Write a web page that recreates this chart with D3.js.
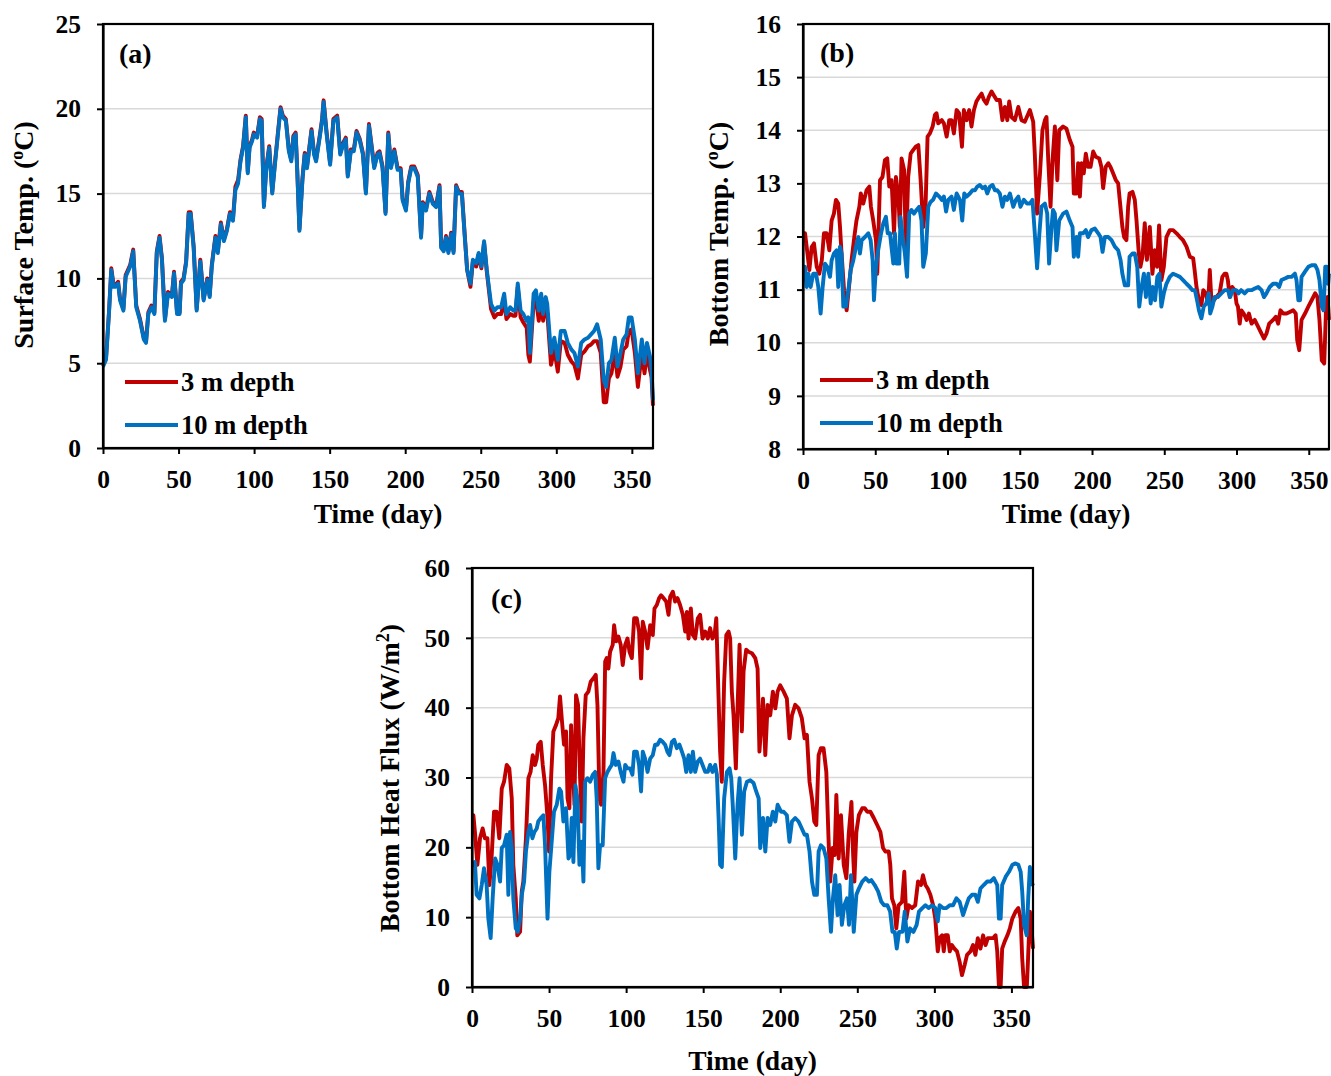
<!DOCTYPE html>
<html>
<head>
<meta charset="utf-8">
<script src="https://cdn.jsdelivr.net/npm/d3@7"></script>
<style>
    body { margin: 0; background: #fff; }
    svg { display: block; }
</style>
</head>
<body>
<div id="chart"></div>
<script>
// [day, value] pairs
const surface3m = [
    [0,4.9],[2,5.3],[4,8.1],[5.5,10.6],[7,9.6],[8,9.6],[10,9.8],[11.3,8.8],[13.5,8.2],[15,10.2],[18,10.8],[20,11.7],
    [22,8.4],[24.5,7.6],[27,6.5],[28.5,6.3],[30,8.0],[32,8.4],[34,8.0],[35.6,11.6],[37.4,12.5],[39,11.2],[41,7.6],
    [43,9.2],[45.6,9.0],[47,10.4],[49,8.0],[50.7,8.0],[51.6,9.8],[53.3,10.0],[55,11.0],[56.7,13.9],[58,13.9],
    [60,11.9],[62,8.2],[64.4,11.1],[66.6,8.8],[69,10.0],[70.6,9.0],[72,10.8],[74.4,12.5],[76,11.6],[78,13.3],
    [80,12.3],[82,12.9],[84,13.9],[86,13.5],[87.6,15.4],[89.4,15.8],[91,17.0],[92.7,17.8],[94.5,19.6],[95.8,16.3],
    [97,17.8],[98.7,18.2],[99.8,18.6],[102,18.4],[103.8,19.5],[105,19.4],[106.5,14.3],[108,16.5],[110,17.8],
    [112,15.1],[114,17.0],[116,18.8],[117.5,20.1],[119,19.6],[121,19.4],[123,17.6],[124.6,17.0],[126,18.4],
    [127.5,18.6],[128.6,16.3],[130,12.9],[132,15.9],[133.5,17.4],[135,16.6],[138,18.8],[139.7,17.4],[141,17.0],
    [143.4,18.4],[145,19.4],[146,20.5],[148,18.6],[150.3,16.8],[152.5,19.4],[155,19.6],[157,17.4],[159,18.0],
    [160.7,18.3],[162,16.1],[164,17.6],[166,17.6],[167.8,18.7],[170,18.2],[172,17.4],[174,15.1],[176,19.1],
    [179.5,16.6],[181.7,17.4],[183,17.5],[185,16.6],[187,13.9],[188.8,18.6],[190.6,16.6],[192.8,17.6],[195,16.5],
    [197,16.5],[198.3,14.7],[200.5,14.1],[202,15.7],[204,16.6],[206,16.6],[208.3,16.1],[210.5,12.5],[211.6,14.5],
    [213.8,14.1],[216,15.1],[218.3,14.5],[220.5,14.3],[222.7,15.5],[223.8,11.9],[225.5,11.7],[227,12.5],
    [228.6,11.6],[230.4,12.7],[232,11.6],[233.7,15.5],[235.5,15.1],[237.5,15.1],[239.3,12.7],[241,10.5],
    [243.2,9.5],[244.8,11.0],[247,10.7],[248.6,11.4],[250.4,10.6],[252.2,12.1],[254,10.4],[255.4,9.3],[256.8,8.2],
    [259,7.7],[261,7.9],[263.5,7.9],[265.5,8.7],[267,7.6],[269.5,7.9],[271.6,7.8],[273,7.8],[274.5,9.5],[276.4,7.7],
    [278.2,7.4],[280.4,7.1],[281.5,5.5],[282.5,5.1],[285,8.6],[286.5,8.8],[288.4,7.5],[290,8.6],[291.3,7.5],
    [293,8.4],[294,8.0],[296.5,4.9],[298.7,5.8],[301,4.5],[303,6.3],[305.5,6.2],[307.6,5.5],[310,5.1],[312,4.9],
    [314.3,4.1],[316.5,5.5],[318.7,5.7],[321,6.0],[323,6.1],[325,6.3],[327,6.3],[329.4,5.6],[331.4,2.7],[333,2.7],
    [334.8,4.1],[336.5,4.4],[338.7,5.6],[340.5,4.2],[342.5,4.8],[344.3,5.8],[346.5,6.0],[348,6.9],[349.8,7.0],
    [352,5.6],[354,3.6],[356.6,5.6],[358.4,4.4],[360,5.6],[362,4.6],[363,4.2],[364,2.5]
];
const surface10m = [
    [0,4.8],[2,5.2],[4,8.0],[5.5,10.5],[7,9.5],[8,9.5],[10,9.7],[11.3,8.7],[13.5,8.1],[15,10.1],[18,10.7],[20,11.6],
    [22,8.3],[24.5,7.5],[27,6.4],[28.5,6.2],[30,7.9],[32,8.3],[34,7.9],[35.6,11.5],[37.4,12.4],[39,11.1],[41,7.5],
    [43,9.1],[45.6,8.9],[47,10.3],[49,7.9],[50.7,7.9],[51.6,9.7],[53.3,9.9],[55,10.9],[56.7,13.8],[58,13.8],
    [60,11.8],[62,8.1],[64.4,11.0],[66.6,8.7],[69,9.9],[70.6,8.9],[72,10.7],[74.4,12.4],[76,11.5],[78,13.2],
    [80,12.2],[82,12.8],[84,13.8],[86,13.4],[87.6,15.2],[89.4,15.6],[91,16.9],[92.7,17.7],[94.5,19.5],[95.8,16.2],
    [97,17.7],[98.7,18.1],[99.8,18.5],[102,18.3],[103.8,19.4],[105,19.3],[106.5,14.2],[108,16.4],[110,17.7],
    [112,15.0],[114,16.9],[116,18.7],[117.5,20.0],[119,19.5],[121,19.3],[123,17.5],[124.6,16.9],[126,18.3],
    [127.5,18.5],[128.6,16.2],[130,12.8],[132,15.8],[133.5,17.3],[135,16.5],[138,18.7],[139.7,17.3],[141,16.9],
    [143.4,18.3],[145,19.3],[146,20.4],[148,18.5],[150.3,16.7],[152.5,19.3],[155,19.5],[157,17.3],[159,17.9],
    [160.7,18.2],[162,16.0],[164,17.5],[166,17.5],[167.8,18.6],[170,18.1],[172,17.3],[174,15.0],[176,19.0],
    [179.5,16.5],[181.7,17.3],[183,17.4],[185,16.5],[187,13.8],[188.8,18.5],[190.6,16.5],[192.8,17.5],[195,16.4],
    [197,16.4],[198.3,14.6],[200.5,14.0],[202,15.6],[204,16.5],[206,16.5],[208.3,16.0],[210.5,12.4],[211.6,14.4],
    [213.8,14.0],[216,15.0],[218.3,14.4],[220.5,14.2],[222.7,15.4],[223.8,11.8],[225.5,11.6],[227,12.4],
    [228.6,11.5],[230.4,12.6],[232,11.5],[233.7,15.4],[235.5,15.0],[237.5,15.0],[239.3,12.6],[241,10.5],
    [243.2,9.7],[244.8,11.1],[247,10.9],[248.6,11.5],[250.4,10.7],[252.2,12.2],[254,10.5],[255.4,9.5],[256.8,8.5],
    [259,8.1],[261,8.3],[263.5,8.3],[265.5,9.1],[267,7.9],[269.5,8.3],[271.6,8.1],[273,8.1],[274.5,9.7],[276.4,8.1],
    [278.2,7.9],[280.4,7.5],[281.5,7.7],[282.5,5.6],[285,9.1],[286.5,9.3],[288.4,8.1],[290,9.1],[291.3,7.9],
    [293,8.9],[294,8.5],[296.5,5.6],[298.7,6.5],[301,5.2],[303,6.9],[305.5,6.9],[307.6,6.2],[310,5.8],[312,5.6],
    [314.3,4.8],[316.5,6.2],[318.7,6.4],[321,6.5],[323,6.7],[325,6.9],[327,7.3],[329.4,6.4],[331.4,4.0],[333,3.6],
    [334.8,5.0],[336.5,5.2],[338.7,6.5],[340.5,4.8],[342.5,5.6],[344.3,6.4],[346.5,6.7],[348,7.7],[349.8,7.7],
    [352,6.4],[354,4.4],[356.6,6.4],[358.4,5.0],[360,6.2],[362,5.4],[363,4.6],[364,2.8]
];
const bottom3m = [
    [0,12.06],[1.4,12.06],[3,11.7],[4.4,11.37],[6,11.8],[7.6,11.87],[9.5,11.43],[11.3,11.3],[13,11.55],[14.5,12.06],
    [16.4,12.06],[18.2,11.74],[19.8,12.3],[21.4,12.43],[22.8,12.69],[24.4,12.62],[25.6,12.18],[26.7,11.68],
    [28.4,10.99],[30.2,10.61],[32,11.1],[33.6,11.55],[35.5,11.99],[37,12.3],[39,12.56],[40,12.81],[41.7,12.62],
    [44,12.87],[45.9,12.94],[47,12.56],[48.6,12.3],[50.5,11.93],[51.4,11.3],[53.3,13.06],[55,13.12],[56.7,13.44],
    [58.3,13.47],[59.7,12.94],[61.3,13.06],[63,12.06],[64.3,13.12],[66,12.75],[67,12.18],[68.2,13.47],[70,13.25],
    [71.2,11.68],[72.8,13.12],[74.5,13.56],[76.3,13.63],[78,13.69],[79.8,13.72],[81.4,13.06],[83.2,12.18],
    [84.8,12.56],[86.2,13.88],[87.8,13.94],[89.7,14.07],[91.3,14.29],[92.4,14.32],[93.6,14.13],[96,14.19],
    [97.5,14.13],[99.4,13.88],[101.2,14.19],[102.8,14.19],[104.4,13.94],[106.3,14.38],[108,14.32],[110,13.69],
    [111.3,14.38],[113.2,14.19],[115,14.38],[116.6,14.07],[118.3,14.38],[120,14.54],[122,14.63],[123.6,14.69],
    [125.2,14.57],[127,14.5],[128.6,14.63],[130.5,14.73],[132,14.66],[134,14.57],[136.2,14.57],[138,14.19],
    [139.7,14.44],[141.4,14.19],[142.7,14.54],[144.3,14.25],[146.6,14.19],[149,14.44],[151.2,14.19],[153.5,14.16],
    [157,14.38],[159.3,14.16],[160.4,13.56],[162,12.43],[164,13.19],[165.7,14.0],[167.4,14.19],[168.5,14.25],
    [169.7,13.44],[171.3,12.56],[172.7,13.44],[174.3,14.07],[176,13.06],[177.3,14.0],[180,14.07],[182.3,14.03],
    [184.6,13.82],[186.5,13.69],[187.4,12.81],[189.3,12.81],[190.4,13.38],[191.6,12.75],[192.8,13.38],[194.3,13.19],
    [195.7,13.56],[197.3,13.31],[199,13.31],[200.8,13.6],[202.6,13.5],[205,13.47],[206.5,13.31],[207.7,12.91],
    [209.5,13.31],[211.3,13.38],[212.8,13.31],[214.6,13.19],[216.5,13.06],[218.1,13.0],[219.2,12.69],[221,12.18],
    [222.2,11.99],[223.8,11.93],[225,12.56],[226,12.81],[228,12.84],[229.6,12.69],[230.8,12.3],[232.4,11.68],
    [233.5,11.43],[234.9,11.62],[236.5,12.25],[238,11.56],[240,12.18],[241.8,11.3],[243.4,11.74],[245,11.43],
    [246.4,12.21],[248,11.18],[249.7,11.43],[251.5,11.99],[253.8,12.12],[256.1,12.12],[258.5,12.06],[260.8,11.99],
    [263,11.93],[265.4,11.81],[267.7,11.62],[270,11.59],[271,11.37],[272.3,11.05],[274,10.8],[275.7,10.71],
    [277,10.99],[278.7,10.93],[280.4,10.74],[281.5,11.37],[282.6,10.8],[284.3,10.8],[286,10.86],[288.3,10.93],
    [290.2,11.24],[291.8,11.3],[293,11.3],[294,11.18],[295.3,10.86],[297,11.05],[298.8,10.99],[300,10.74],
    [301,10.68],[302.2,10.36],[303.4,10.61],[305,10.55],[307,10.43],[308.6,10.55],[310.4,10.36],[312.6,10.43],
    [315,10.3],[317.3,10.17],[319,10.08],[320.7,10.17],[322.6,10.36],[325.3,10.43],[327.2,10.49],[328.8,10.36],
    [330.4,10.61],[332.3,10.55],[334.6,10.55],[336.9,10.58],[339.2,10.61],[341,10.55],[342,10.05],[343.4,9.86],
    [345,10.43],[347.4,10.55],[349.7,10.68],[352,10.8],[354.4,10.93],[356,10.86],[357.4,10.43],[359,9.67],
    [360.7,9.61],[362,10.68],[363,10.86],[364,10.43]
];
const bottom10m = [
    [0,11.43],[1.4,11.43],[2.5,11.05],[3.7,11.3],[5.3,11.05],[7.1,11.3],[9,11.3],[10.6,11.05],[12.2,10.55],
    [13.6,11.05],[15.2,11.49],[16.8,11.43],[18.7,11.24],[19.8,11.55],[21.4,11.68],[23.3,11.74],[24.4,11.05],
    [25.6,11.81],[26.7,11.68],[27.9,10.68],[29.7,10.68],[31.4,10.99],[33,11.37],[34.8,11.55],[36.7,11.81],
    [38.3,11.99],[39.4,11.68],[40.6,11.93],[42.9,11.99],[45.2,12.06],[46.8,11.93],[48.2,11.55],[49.1,10.8],
    [50.5,11.43],[52,11.74],[54,12.06],[55.6,12.25],[57.4,12.37],[58.6,12.06],[60.2,12.06],[62.5,11.49],
    [63.6,12.06],[64.8,11.49],[66.6,11.49],[67.5,12.37],[69,11.99],[70.5,11.68],[72,11.24],[73.5,12.43],[75,12.5],
    [76.8,12.43],[78.6,12.5],[80.4,12.56],[82,12.3],[83.2,11.43],[85,11.68],[86.7,12.56],[88.3,12.65],[90,12.69],
    [92,12.81],[94.3,12.75],[96,12.69],[97.5,12.75],[99,12.47],[100.5,12.69],[102.8,12.75],[104.4,12.5],
    [106.3,12.81],[108.6,12.69],[110.2,12.3],[111.6,12.81],[113.2,12.75],[115.5,12.81],[117.3,12.87],[119,12.87],
    [120.6,12.94],[122.4,12.97],[124.3,12.91],[126,12.94],[127.5,12.81],[129.3,12.94],[131.2,12.97],[132.8,12.87],
    [134.4,12.87],[136.2,12.81],[138,12.56],[139.7,12.75],[141.3,12.69],[143.2,12.81],[145.5,12.56],[147.3,12.69],
    [149,12.75],[150.5,12.56],[152.8,12.69],[155,12.62],[157,12.62],[158.8,12.69],[160.4,12.06],[162,11.4],
    [163.4,11.99],[165,12.56],[167.4,12.62],[169,12.43],[170.3,11.49],[172,12.18],[173,12.5],[174.3,12.43],
    [175.4,11.74],[177.3,12.3],[180,12.43],[182.3,12.47],[184.6,12.3],[186.5,12.18],[187.4,11.62],[189.3,11.99],
    [190.4,11.62],[191.6,12.06],[193.9,12.06],[195.7,12.12],[197.3,11.99],[199.6,12.12],[202,12.15],[204.3,12.06],
    [205.9,11.99],[207.3,11.71],[208.9,11.99],[211.3,11.99],[213.5,11.93],[215.8,11.81],[218.1,11.74],[219.8,11.55],
    [221,11.3],[222.7,11.08],[225,11.08],[226,11.62],[228,11.68],[229.6,11.68],[231.3,11.43],[232.7,10.68],
    [234.3,11.05],[235.9,11.3],[237.3,10.86],[239,11.3],[240.6,10.74],[242,11.05],[243.6,10.8],[245.2,11.24],
    [246.6,11.3],[248,10.68],[249.7,10.93],[251.5,11.11],[253.8,11.24],[256.1,11.3],[258.5,11.27],[260.8,11.24],
    [263,11.18],[265.4,11.11],[267.7,11.05],[269.5,10.99],[271.2,10.99],[272.7,10.8],[274,10.61],[275.7,10.46],
    [277.3,10.68],[279,10.74],[280.8,10.93],[281.8,10.55],[283.3,10.68],[284.8,10.86],[287,10.86],[289.5,10.93],
    [291.8,10.99],[294,10.99],[295.6,10.86],[297.4,10.99],[299.8,10.99],[301.4,10.93],[303.2,10.99],[305.6,10.93],
    [307.8,10.99],[310.4,10.99],[312.6,11.02],[315,11.05],[317.3,10.99],[319,10.86],[320.7,10.93],[323,11.05],
    [325.3,11.11],[327.7,11.11],[329.5,11.05],[331.1,11.18],[333.5,11.21],[335.8,11.24],[338.1,11.24],[340.4,11.3],
    [341.5,11.18],[342.8,10.8],[344,10.8],[345,11.24],[347.4,11.34],[349.7,11.43],[352,11.46],[354.4,11.46],
    [356,11.37],[357.4,11.18],[359,10.68],[360.2,10.61],[361.4,11.43],[362.5,11.43],[363.4,11.11],[364,11.3]
];
const flux3m = [
    [0,24.6],[0.9,24.6],[1.9,22.2],[3.5,17.5],[5.2,21.3],[6.9,22.7],[8.4,21.3],[10,21.3],[11.3,14.6],[12.8,18.9],
    [14.3,25.1],[16,25.1],[17.7,21.3],[19.3,28.4],[20.8,29.4],[22.5,31.8],[24.2,31.3],[25.8,27.0],[26.8,17.5],
    [28.4,12.7],[29.4,7.4],[31.2,7.9],[32.3,13.7],[33.3,15.1],[35,21.3],[36.6,29.9],[38,30.8],[39.4,33.2],
    [40.9,31.8],[42,32.7],[43,34.7],[44.6,35.1],[45.9,31.8],[47.4,28.9],[49,24.2],[50,19.4],[51.3,29.9],[52.8,36.6],
    [54.5,37.5],[56,38.5],[57.1,41.6],[58.4,38.0],[59.7,34.7],[61,36.6],[62,27.0],[63.2,25.6],[64.3,37.5],
    [65.4,31.8],[66.5,26.1],[67.5,41.8],[68.8,40.4],[70,30.8],[71.2,23.7],[72.3,35.6],[73.8,41.8],[75.5,42.3],
    [77,43.7],[78.8,44.2],[80.3,44.7],[81.4,40.4],[82.7,27.0],[83.8,26.1],[85.3,30.8],[86.4,46.6],[87.4,47.1],
    [88.5,45.6],[89.6,48.0],[91.3,49.0],[92.2,51.8],[93.5,49.5],[95,50.2],[96.5,49.0],[97.8,46.1],[99.4,49.0],
    [100.9,49.9],[102.2,48.0],[103.7,47.1],[105.2,52.8],[106.9,52.8],[108.4,50.9],[109.7,44.2],[110.8,52.3],
    [112.3,50.9],[113.9,48.5],[115.6,51.8],[117.3,50.4],[118.4,54.2],[119.9,54.7],[121.4,55.7],[122.7,56.1],
    [124.2,55.7],[126,55.2],[127.5,53.3],[128.6,55.9],[130.3,56.6],[131.8,55.2],[133.3,55.7],[135,54.7],
    [136.8,53.3],[138.3,50.9],[139.4,53.7],[140.5,49.9],[142,54.2],[143.3,50.4],[144.8,49.9],[146.5,52.8],
    [148,53.3],[149.6,49.9],[151.3,50.9],[153,49.9],[154.5,51.4],[156,49.9],[157.4,50.4],[158.5,52.8],[160,41.3],
    [161,33.7],[162.1,29.4],[163.6,43.7],[165,50.4],[166.5,50.9],[167.5,49.9],[168.6,42.3],[169.7,38.9],
    [171.2,31.3],[172.5,41.3],[173.6,49.0],[175.1,36.6],[176.2,45.2],[177.9,48.3],[179.4,48.0],[181.6,47.8],
    [183.8,47.1],[185.3,45.6],[186.5,33.7],[188.8,41.3],[190.3,33.2],[191.8,40.4],[193.5,38.9],[195.2,42.3],
    [196.8,39.9],[198.3,42.3],[200,43.2],[202.2,42.3],[204.3,41.3],[206,35.6],[207.6,38.9],[209.7,40.4],
    [211.9,39.9],[214,38.5],[215.8,35.6],[217.3,36.1],[219,29.4],[220.6,27.0],[222.1,23.7],[223.4,23.2],
    [224.9,33.2],[226.4,34.2],[228.1,34.2],[229.9,30.8],[231.4,20.8],[232.4,15.1],[234,19.9],[235.3,18.9],
    [236.4,27.5],[237.9,18.4],[239.4,24.6],[241.2,17.5],[242.9,15.6],[244.4,21.8],[246.2,26.5],[247.3,18.9],
    [248.1,15.1],[249.4,22.2],[251,24.6],[253.2,25.6],[254.8,25.6],[256.4,25.1],[258.5,25.1],[260.7,24.2],
    [262.9,23.2],[265,22.2],[266.7,19.9],[268.2,19.4],[270.4,19.4],[271.4,17.5],[272.5,12.7],[274,11.7],
    [275.3,8.4],[276.8,11.7],[279,12.2],[280.5,16.5],[281.8,9.8],[283.3,11.7],[285.5,11.3],[287.6,11.7],
    [289.4,15.1],[291.3,14.6],[292.6,16.0],[294.2,14.6],[295.7,14.1],[297.4,13.2],[299.2,11.7],[300.6,9.8],
    [302.2,5.1],[303.4,7.0],[305,7.4],[306.1,5.1],[307.1,7.4],[308.7,7.4],[310,5.1],[311.4,6.0],[313,5.5],
    [314.7,5.1],[316.4,3.6],[317.9,1.7],[319.7,3.2],[321.2,4.6],[323.4,5.1],[325.1,6.0],[326.6,4.6],[328.2,7.0],
    [329.9,5.5],[331.6,7.4],[333.2,6.0],[334.7,7.0],[336.4,7.0],[338.2,7.0],[339.7,7.4],[340.8,5.1],[341.9,0],
    [343,0],[344,5.5],[345.6,6.5],[347.4,7.4],[349,8.4],[350.6,9.8],[352.7,10.8],[354.5,11.3],[356,9.8],[357,4.1],
    [358.2,0],[360,0],[360.8,4.1],[362,10.8],[363.2,7.9],[364,5.5]
];
const flux10m = [
    [0,17.5],[0.9,17.5],[1.9,17.9],[3,13.2],[4.8,12.7],[6.3,14.6],[7.8,17.0],[9.5,14.6],[10.6,9.8],[12.1,7.0],
    [13.4,12.7],[15,18.4],[16.5,17.5],[18.2,15.1],[19.3,19.9],[20.8,20.3],[22.5,21.8],[23.6,13.2],[24.7,22.2],
    [25.8,19.9],[26.8,12.7],[28.4,8.4],[29.7,7.9],[31.2,9.8],[32.3,13.2],[33.8,15.1],[35,19.4],[36.6,22.2],
    [37.7,23.2],[39.2,21.3],[40.5,22.2],[42,22.7],[43,23.7],[44.6,24.2],[46.3,24.6],[47.4,20.3],[49,9.8],
    [50.2,16.5],[51.7,20.8],[53.2,25.1],[55,26.1],[56.7,28.4],[57.8,28.0],[59.3,23.7],[61,25.6],[62.6,18.4],
    [63.6,18.9],[64.7,24.2],[65.8,17.9],[67.1,28.9],[68.4,27.0],[69.7,17.5],[71.2,20.8],[72.3,15.1],[73.4,29.4],
    [74.9,29.9],[76.6,29.4],[78.4,30.4],[79.9,30.8],[80.9,27.0],[82,17.0],[83.1,20.3],[84.8,20.3],[86.4,29.9],
    [87.9,30.8],[89.2,31.3],[90.7,31.8],[91.8,33.5],[93.3,31.8],[95,32.3],[96.5,30.8],[98.3,29.4],[99.4,31.8],
    [100.9,31.3],[102.6,31.3],[104.1,30.4],[105.2,33.7],[106.9,33.7],[108.4,31.8],[109.7,28.0],[110.8,33.7],
    [112.3,32.7],[113.9,30.8],[115.6,32.7],[117.3,33.2],[118.8,34.7],[120.3,34.7],[122.1,35.4],[123.8,35.1],
    [125.3,34.7],[126.8,33.7],[128.1,33.2],[129.7,35.1],[131.2,35.4],[132.9,34.2],[134.6,34.7],[136.2,33.7],
    [137.7,32.7],[139,30.8],[140.5,33.2],[142,30.8],[143.3,33.7],[144.8,30.8],[146.5,32.3],[148,32.7],[149.6,31.8],
    [151.3,30.8],[153,30.8],[154.5,31.8],[156,30.8],[157.8,31.8],[158.9,30.4],[160,24.2],[161,17.5],[162.1,17.2],
    [163.6,27.0],[165.4,30.8],[167.1,31.3],[168.2,29.9],[169.3,25.6],[170.8,18.4],[172.3,26.1],[173.6,29.9],
    [175.1,21.8],[176.6,28.0],[178.4,29.4],[180.5,29.6],[182.7,29.2],[184.4,28.0],[186,27.0],[187,19.9],
    [188.8,24.2],[190.3,19.4],[191.8,24.2],[193.5,23.2],[195.2,25.1],[196.8,23.7],[198.3,26.1],[200.5,25.1],
    [202.2,25.1],[204.3,24.6],[206,20.8],[207.6,23.7],[209.7,24.2],[211.9,23.7],[214,22.7],[215.8,21.8],
    [217.3,21.8],[219,19.4],[220.6,15.1],[222.1,13.2],[223.8,13.2],[224.9,19.4],[226.4,20.3],[228.1,19.9],
    [229.9,18.4],[231.4,12.7],[232.9,7.9],[234.2,12.7],[235.7,16.0],[237.2,10.3],[238.5,14.6],[240,8.9],
    [241.6,11.7],[243.3,12.7],[244.6,8.9],[245.9,16.0],[247.7,7.9],[249.4,13.2],[251,14.1],[253.2,15.1],
    [255.4,15.6],[257.6,15.1],[259.1,15.3],[261.3,14.6],[263.5,13.7],[265.6,12.2],[267.4,11.7],[269.5,11.7],
    [271.3,10.8],[272.8,7.9],[274.3,7.9],[275.6,5.5],[277.1,7.9],[279.3,7.9],[280.8,10.8],[282.5,6.5],[284.2,8.4],
    [286.4,7.9],[288.5,8.9],[290,10.8],[292.2,11.3],[294.2,11.7],[296.3,11.3],[298.5,11.7],[300.6,11.3],
    [302.2,9.4],[303.4,11.7],[305.6,11.3],[307.8,11.3],[310,11.7],[312.1,11.7],[314.3,12.7],[316.4,12.2],
    [318.6,10.3],[320.1,11.3],[322.3,12.7],[324.4,13.2],[326.6,13.2],[328.2,12.2],[329.9,14.1],[332,14.6],
    [334.2,15.1],[336.4,15.1],[338.6,15.6],[340.8,14.6],[341.9,9.8],[343,9.8],[344,14.6],[346.3,15.8],[348.4,16.5],
    [350.6,17.5],[352.7,17.7],[354.5,17.5],[356,16.5],[357,13.7],[358.2,8.9],[359.9,7.4],[360.9,12.7],[362,17.2],
    [363,15.1],[364,14.5]
];

const dayTicks = [0, 50, 100, 150, 200, 250, 300, 350];
const surfaceTicks = [0, 5, 10, 15, 20, 25];
const bottomTicks = [8, 9, 10, 11, 12, 13, 14, 15, 16];
const fluxTicks = [0, 10, 20, 30, 40, 50, 60];
const seriesNames = ['3 m depth', '10 m depth'];
const seriesColors = ['#C00000', '#0070C0'];

const FONT = '"Liberation Serif", "Times New Roman", serif';

const svg = d3.select('#chart').append('svg')
    .attr('width', 1331)
    .attr('height', 1076)
    .style('font-family', FONT)
    .style('font-weight', 'bold');

function drawPanel(p) {
    const g = svg.append('g');
    const x = d3.scaleLinear().domain([0, 364]).range([p.left, p.right]);
    const y = d3.scaleLinear().domain(d3.extent(p.yTicks)).range([p.bottom, p.top]);

    // horizontal gridlines (skip bottom axis and top border)
    g.selectAll('line.grid')
        .data(p.yTicks.slice(1, -1))
        .enter().append('line')
        .attr('x1', p.left).attr('x2', p.right)
        .attr('y1', d => y(d)).attr('y2', d => y(d))
        .attr('stroke', '#d9d9d9')
        .attr('stroke-width', 1.5);

    const line = d3.line().x(d => x(d[0])).y(d => y(d[1]));
    p.series.forEach((s, i) => {
        g.append('path')
            .datum(s)
            .attr('fill', 'none')
            .attr('stroke', seriesColors[i])
            .attr('stroke-width', 3.9)
            .attr('stroke-linejoin', 'round')
            .attr('d', line);
    });

    g.append('rect')
        .attr('x', p.left).attr('y', p.top)
        .attr('width', p.right - p.left).attr('height', p.bottom - p.top)
        .attr('fill', 'none')
        .attr('stroke', '#000')
        .attr('stroke-width', 2.2);

    const yAxis = g.append('g')
        .attr('transform', `translate(${p.left},0)`)
        .call(d3.axisLeft(y).tickValues(p.yTicks).tickSize(6).tickSizeOuter(0).tickPadding(16));
    const xAxis = g.append('g')
        .attr('transform', `translate(0,${p.bottom})`)
        .call(d3.axisBottom(x).tickValues(dayTicks).tickSize(6).tickSizeOuter(0).tickPadding(16));

    [yAxis, xAxis].forEach(ax => {
        ax.select('.domain').attr('stroke', '#000').attr('stroke-width', 2.2);
        ax.selectAll('.tick line').attr('stroke', '#000').attr('stroke-width', 2);
        ax.selectAll('.tick text')
            .attr('font-family', FONT)
            .attr('font-weight', 'bold')
            .attr('font-size', 25.5)
            .attr('fill', '#000');
    });

    // axis titles
    g.append('text')
        .attr('x', (p.left + p.right) / 2)
        .attr('y', p.xTitleY)
        .attr('text-anchor', 'middle')
        .attr('font-size', 27.5)
        .text('Time (day)');

    const yt = g.append('text')
        .attr('transform', `translate(${p.yTitleX},${p.yTitleY}) rotate(-90)`)
        .attr('text-anchor', 'middle')
        .attr('font-size', 28)
        .text(p.yTitle[0]);
    yt.append('tspan').attr('font-size', 18).attr('dy', -10).text(p.yTitle[1]);
    yt.append('tspan').attr('dy', 10).text(p.yTitle[2]);

    g.append('text')
        .attr('x', p.tagX).attr('y', p.tagY)
        .attr('font-size', 28)
        .text(p.tag);

    if (p.legend) {
        const lg = g.append('g').selectAll('g')
            .data(seriesNames)
            .enter().append('g')
            .attr('transform', (d, i) => `translate(${p.legend[0]},${p.legend[1] + i * 43})`);
        lg.append('line')
            .attr('x1', 0).attr('x2', 53)
            .attr('stroke', (d, i) => seriesColors[i])
            .attr('stroke-width', 4);
        lg.append('text')
            .attr('x', 56).attr('y', 9)
            .attr('font-size', 26.5)
            .text(d => d);
    }
}

drawPanel({
    left: 103, right: 653, top: 24, bottom: 448,
    yTicks: surfaceTicks,
    series: [surface3m, surface10m],
    yTitle: ['Surface Temp. (', 'o', 'C)'],
    yTitleX: 33, yTitleY: 235, xTitleY: 523,
    tag: '(a)', tagX: 119, tagY: 63,
    legend: [125, 382]
});

drawPanel({
    left: 803, right: 1329, top: 24, bottom: 449,
    yTicks: bottomTicks,
    series: [bottom3m, bottom10m],
    yTitle: ['Bottom Temp. (', 'o', 'C)'],
    yTitleX: 728, yTitleY: 234, xTitleY: 523,
    tag: '(b)', tagX: 820, tagY: 62,
    legend: [820, 380]
});

drawPanel({
    left: 472, right: 1033, top: 568, bottom: 987,
    yTicks: fluxTicks,
    series: [flux3m, flux10m],
    yTitle: ['Bottom Heat Flux (W/m', '2', ')'],
    yTitleX: 399, yTitleY: 778, xTitleY: 1070,
    tag: '(c)', tagX: 491, tagY: 608
});
</script>
</body>
</html>
